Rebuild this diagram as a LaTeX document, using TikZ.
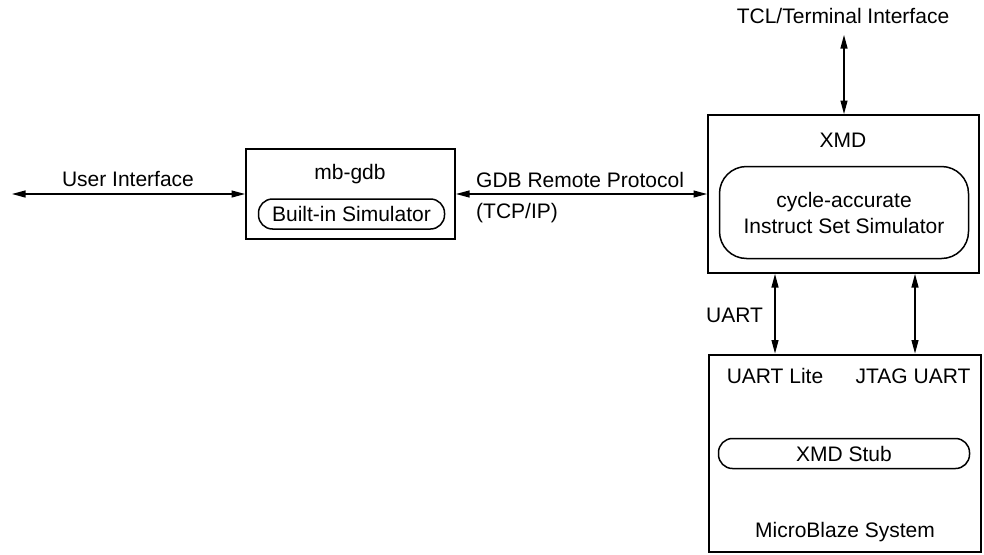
\documentclass[tikz,border=0pt]{standalone}
\usepackage{fontspec}
\setmainfont{Liberation Sans}
\usetikzlibrary{arrows.meta}
\begin{document}
\begin{tikzpicture}[x=1pt,y=-1pt,
  every node/.style={font=\fontsize{21}{26}\selectfont, inner sep=0pt},
  bigbox/.style={draw, line width=2pt, rectangle},
  pill/.style={draw, line width=1.5pt, rectangle},
  lbl/.style={anchor=base},
  conn/.style={line width=1.1pt, {Triangle[length=13.5pt,width=7pt]}-{Triangle[length=13.5pt,width=7pt]}}]
\useasboundingbox (0,0) rectangle (984,554);
% boxes
\node[bigbox, minimum width=209pt, minimum height=90pt] (mbgdb) at (350.5,194) {};
\node[bigbox, minimum width=271pt, minimum height=158pt] (xmd) at (843.5,194) {};
\node[bigbox, minimum width=272pt, minimum height=197pt] (mb) at (845,453) {};
% inner rounded boxes
\node[pill, rounded corners=14pt, minimum width=186pt, minimum height=30pt] (bis) at (351.5,214) {Built-in Simulator};
\node[pill, rounded corners=27pt, minimum width=249pt, minimum height=92pt, align=center] (iss) at (844,212.5) {cycle-accurate\\Instruct Set Simulator};
\node[pill, rounded corners=14pt, minimum width=251pt, minimum height=30pt] (stub) at (844,453.5) {XMD Stub};
% labels
\node[lbl] (mbgdbl) at (350,179) {mb-gdb};
\node[lbl] (xmdl) at (843,147) {XMD};
\node[lbl] (mbl) at (845,537) {MicroBlaze System};
\node[lbl] (ulite) at (775,383) {UART Lite};
\node[lbl] (jtag) at (913,383) {JTAG UART};
\node[lbl] (tcl) at (843,23) {TCL/Terminal Interface};
\node[lbl] (uil) at (128,186) {User Interface};
\node[lbl, anchor=base west] (gdbl) at (476,187) {GDB Remote Protocol};
\node[lbl, anchor=base west] (tcpl) at (476,218) {(TCP/IP)};
\node[lbl, anchor=base west] (uartl) at (706,322) {UART};
% connectors
\coordinate (uiend) at (12,194);
\coordinate (tclend) at (844,35);
\draw[conn] (uiend) -- (mbgdb.west);
\draw[conn] (mbgdb.east) -- (xmd.west);
\draw[conn] (tclend) -- (tclend |- xmd.north);
\draw[conn] (ulite |- xmd.south) -- (ulite |- mb.north);
\draw[conn] (915,0 |- xmd.south) -- (915,0 |- mb.north);
\end{tikzpicture}
\end{document}
